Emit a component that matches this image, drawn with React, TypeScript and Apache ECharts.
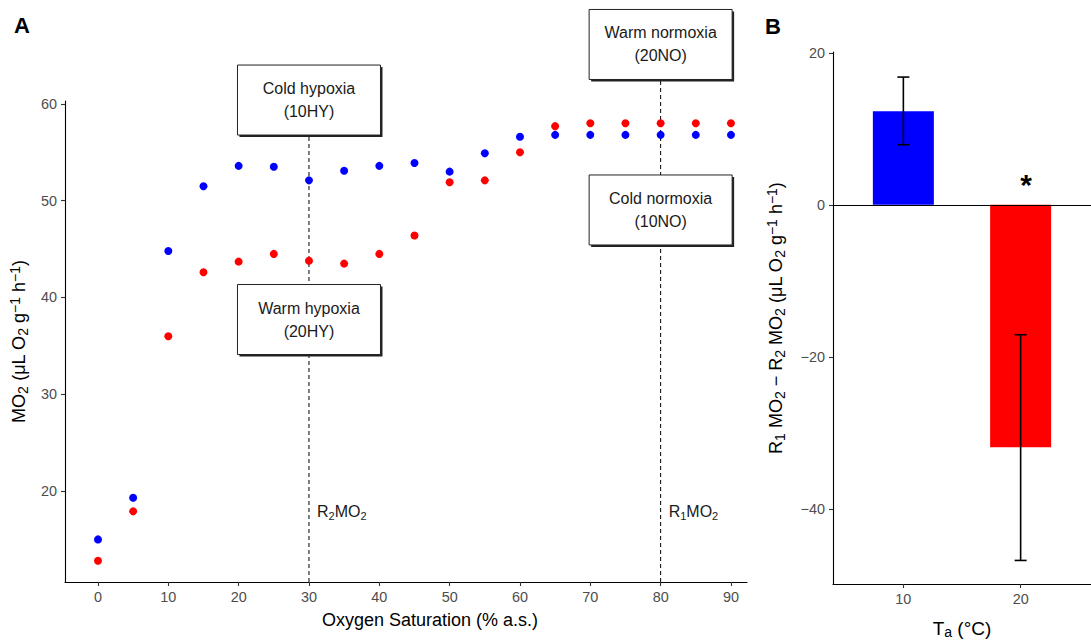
import React, { useEffect, useRef } from "react";
import * as echarts from "echarts";

// ---------- Panel A data ----------
const saturation = [0, 5, 10, 15, 20, 25, 30, 35, 40, 45, 50, 55, 60, 65, 70, 75, 80, 85, 90];
const mo2Cold10 = [15.0, 19.3, 44.8, 51.5, 53.6, 53.5, 52.1, 53.1, 53.6, 53.9, 53.0, 54.9, 56.6, 56.8, 56.8, 56.8, 56.8, 56.8, 56.8];
const mo2Warm20 = [12.8, 17.9, 36.0, 42.6, 43.7, 44.5, 43.8, 43.5, 44.5, 46.4, 51.9, 52.1, 55.0, 57.7, 58.0, 58.0, 58.0, 58.0, 58.0];
const xTicksA = [0, 10, 20, 30, 40, 50, 60, 70, 80, 90];
const yTicksA = [20, 30, 40, 50, 60];
const refLinesX = [30, 80];
const refLineLabels = ["R{sub|2}MO{sub|2}", "R{sub|1}MO{sub|2}"];
const annotX = [30, 30, 80, 80];
const annotY = [60.4, 37.72, 66.14, 49.04];
const annotText = ["Cold hypoxia\n(10HY)", "Warm hypoxia\n(20HY)", "Warm normoxia\n(20NO)", "Cold normoxia\n(10NO)"];

// ---------- Panel B data ----------
const tempCategories = ["10", "20"];
const tempPos = [1, 2];
const diffMean = [12.3, -31.9];
const diffLow = [7.9, -46.8];
const diffHigh = [16.8, -17.1];
const barColors = ["#0000FF", "#FF0000"];
const yTicksB = [-40, -20, 0, 20];

const FONT = "'Liberation Sans', Arial, Helvetica, sans-serif";

const richSubSup = {
  sub: { fontSize: 14, lineHeight: 13, verticalAlign: "bottom", fontFamily: FONT, color: "#000" },
  sup: { fontSize: 14, lineHeight: 13, verticalAlign: "top", fontFamily: FONT, color: "#000" },
};

export default function App() {
  const ref = useRef<HTMLDivElement>(null);

  useEffect(() => {
    if (!ref.current) return;
    const chart = echarts.init(ref.current, null, { renderer: "svg" });

    const axisLineStyle = { show: true, onZero: false, lineStyle: { color: "#000", width: 1.1 } };
    const axisTickStyle = { show: true, length: 4, lineStyle: { color: "#333", width: 1.1 } };
    const tickLabel = { color: "#4D4D4D", fontSize: 14.4, fontFamily: FONT, margin: 8 };
    const nameStyle = { fontSize: 18, lineHeight: 22, fontFamily: FONT, color: "#000", rich: richSubSup };

    const option: any = {
      animation: false,
      backgroundColor: "#fff",
      textStyle: { fontFamily: FONT },
      grid: [
        { left: 65, top: 101, width: 682, height: 481 },
        { left: 833, top: 52, right: -8, height: 532.3 },
      ],
      xAxis: [
        {
          type: "value",
          gridIndex: 0,
          min: -4.69,
          max: 92.28,
          axisLine: axisLineStyle,
          axisTick: { ...axisTickStyle, customValues: xTicksA },
          axisLabel: { ...tickLabel, customValues: xTicksA },
          splitLine: { show: false },
          name: "Oxygen Saturation (% a.s.)",
          nameLocation: "middle",
          nameGap: 27,
          nameTextStyle: { ...nameStyle, padding: [0, 0, 0, 48] },
        },
        {
          type: "value",
          gridIndex: 1,
          min: 0.4,
          max: 2.6,
          axisLine: axisLineStyle,
          axisTick: { ...axisTickStyle, customValues: tempPos },
          axisLabel: {
            ...tickLabel,
            customValues: tempPos,
            formatter: (v: number) => tempCategories[tempPos.indexOf(Math.round(v))] ?? "",
          },
          splitLine: { show: false },
          name: "T{sub|a} (°C)",
          nameLocation: "middle",
          nameGap: 33,
          nameTextStyle: { ...nameStyle, fontSize: 19 },
        },
      ],
      yAxis: [
        {
          type: "value",
          gridIndex: 0,
          min: 10.6,
          max: 60.3,
          axisLine: axisLineStyle,
          axisTick: { ...axisTickStyle, customValues: yTicksA },
          axisLabel: { ...tickLabel, customValues: yTicksA },
          splitLine: { show: false },
          name: "MO{sub|2} (μL O{sub|2} g{sup|−1} h{sup|−1})",
          nameLocation: "middle",
          nameRotate: 90,
          nameGap: 30,
          nameTextStyle: nameStyle,
        },
        {
          type: "value",
          gridIndex: 1,
          min: -49.9,
          max: 20.1,
          axisLine: axisLineStyle,
          axisTick: { ...axisTickStyle, customValues: yTicksB },
          axisLabel: {
            ...tickLabel,
            customValues: yTicksB,
            formatter: (v: number) => (v < 0 ? "−" + Math.abs(v) : String(v)),
          },
          splitLine: { show: false },
          name: "R{sub|1} MO{sub|2} − R{sub|2} MO{sub|2} (μL O{sub|2} g{sup|−1} h{sup|−1})",
          nameLocation: "middle",
          nameRotate: 90,
          nameGap: 46,
          nameTextStyle: nameStyle,
        },
      ],
      series: [
        // dashed reference lines
        {
          type: "custom",
          xAxisIndex: 0,
          yAxisIndex: 0,
          clip: false,
          z: 1,
          data: refLinesX.map((x, i) => [x, i === 0 ? annotY[0] : annotY[2]]),
          renderItem: (params: any, api: any) => {
            const x = api.value(0);
            const bottom = api.coord([x, 10.6]);
            const top = api.coord([x, api.value(1)]);
            return {
              type: "line",
              shape: { x1: bottom[0], y1: bottom[1], x2: top[0], y2: top[1] },
              style: { stroke: "#000", lineWidth: 1, lineDash: [4, 3] },
            };
          },
        },
        // R labels
        {
          type: "custom",
          xAxisIndex: 0,
          yAxisIndex: 0,
          clip: false,
          z: 2,
          data: refLinesX.map((x, i) => [x, 17.86, i]),
          renderItem: (params: any, api: any) => {
            const p = api.coord([api.value(0), api.value(1)]);
            return {
              type: "text",
              x: p[0] + 8,
              y: p[1],
              style: {
                text: refLineLabels[api.value(2)],
                fontSize: 16,
                lineHeight: 20,
                fontFamily: FONT,
                fill: "#1a1a1a",
                align: "left",
                verticalAlign: "middle",
                rich: {
                  sub: { fontSize: 11, lineHeight: 11, verticalAlign: "bottom", fontFamily: FONT, fill: "#1a1a1a" },
                },
              },
            };
          },
        },
        {
          type: "scatter",
          name: "10 °C",
          xAxisIndex: 0,
          yAxisIndex: 0,
          symbolSize: 8,
          z: 3,
          itemStyle: { color: "#0000FF", opacity: 1 },
          data: saturation.map((s, i) => [s, mo2Cold10[i]]),
        },
        {
          type: "scatter",
          name: "20 °C",
          xAxisIndex: 0,
          yAxisIndex: 0,
          symbolSize: 8,
          z: 3,
          itemStyle: { color: "#FF0000", opacity: 1 },
          data: saturation.map((s, i) => [s, mo2Warm20[i]]),
        },
        // annotation boxes
        {
          type: "custom",
          xAxisIndex: 0,
          yAxisIndex: 0,
          clip: false,
          z: 5,
          data: annotX.map((x, i) => [x, annotY[i], i]),
          renderItem: (params: any, api: any) => {
            const c = api.coord([api.value(0), api.value(1)]);
            const w = 143;
            const h = 70;
            const x0 = c[0] - w / 2;
            const y0 = c[1] - h / 2;
            return {
              type: "group",
              children: [
                { type: "rect", shape: { x: x0 + 2, y: y0 + 2, width: w, height: h }, style: { fill: "#222" } },
                { type: "rect", shape: { x: x0, y: y0, width: w, height: h }, style: { fill: "#fff", stroke: "#222", lineWidth: 1 } },
                {
                  type: "text",
                  x: c[0],
                  y: c[1],
                  style: {
                    text: annotText[api.value(2)],
                    fontSize: 16,
                    lineHeight: 23,
                    fontFamily: FONT,
                    fill: "#1a1a1a",
                    align: "center",
                    verticalAlign: "middle",
                  },
                },
              ],
            };
          },
        },
        // Panel B bars
        {
          type: "bar",
          xAxisIndex: 1,
          yAxisIndex: 1,
          barWidth: 61,
          z: 2,
          data: tempPos.map((p, i) => ({ value: [p, diffMean[i]], itemStyle: { color: barColors[i] } })),
          markLine: {
            silent: true,
            symbol: "none",
            label: { show: false },
            lineStyle: { color: "#000", width: 1.2, type: "solid" },
            data: [{ yAxis: 0 }],
          },
        },
        // error bars
        {
          type: "custom",
          xAxisIndex: 1,
          yAxisIndex: 1,
          z: 4,
          data: tempPos.map((p, i) => [p, diffLow[i], diffHigh[i]]),
          encode: { x: 0, y: [1, 2] },
          renderItem: (params: any, api: any) => {
            const x = api.value(0);
            const lo = api.coord([x, api.value(1)]);
            const hi = api.coord([x, api.value(2)]);
            const w = 6;
            const st = { stroke: "#000", lineWidth: 1.6 };
            return {
              type: "group",
              children: [
                { type: "line", shape: { x1: lo[0], y1: lo[1], x2: hi[0], y2: hi[1] }, style: st },
                { type: "line", shape: { x1: lo[0] - w, y1: lo[1], x2: lo[0] + w, y2: lo[1] }, style: st },
                { type: "line", shape: { x1: hi[0] - w, y1: hi[1], x2: hi[0] + w, y2: hi[1] }, style: st },
              ],
            };
          },
        },
      ],
      graphic: [
        { type: "text", left: 14, top: 14, style: { text: "A", fontSize: 22, fontWeight: "bold", fontFamily: FONT, fill: "#000" } },
        { type: "text", left: 765, top: 15, style: { text: "B", fontSize: 22, fontWeight: "bold", fontFamily: FONT, fill: "#000" } },
        { type: "text", x: 1026, y: 184, style: { text: "*", fontSize: 30, fontWeight: "bold", fontFamily: FONT, fill: "#000", align: "center", verticalAlign: "middle" } },
      ],
    };

    chart.setOption(option);
    return () => chart.dispose();
  }, []);

  return (
    <div
      ref={ref}
      style={{ position: "fixed", left: 0, top: 0, width: 1091, height: 644, background: "#fff" }}
    />
  );
}
